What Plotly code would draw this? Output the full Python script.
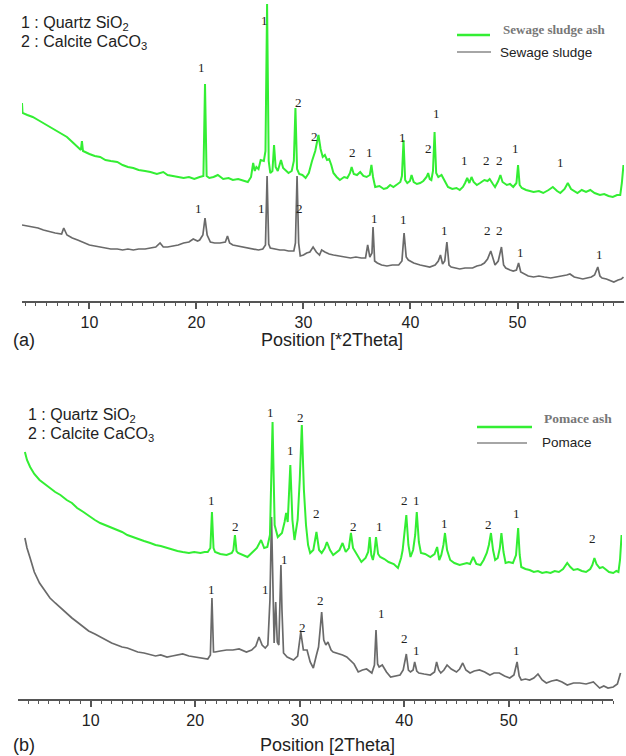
import plotly.graph_objects as go

W, H = 626, 756
GREEN = "#33ee33"
GRAY = "#6a6a6a"
SANS = "Liberation Sans, Arial, sans-serif"
SERIF = "Liberation Serif, Times New Roman, serif"

major_ticks = [10, 20, 30, 40, 50]
major_tick_labels = ["10", "20", "30", "40", "50"]

# ---------------- Panel (a): sewage sludge ash / sewage sludge ----------------
ssa_theta = [3.70, 3.75, 4.2, 4.7, 5.2, 5.7, 6.3, 6.8, 7.4, 7.9, 8.4, 8.9, 9.2, 9.3, 9.4, 10.0, 10.5, 11.0,
             11.5, 12.0, 12.6, 13.1, 13.6, 14.1, 14.6, 15.2, 15.7, 16.3, 16.9, 17.3, 17.8, 18.3, 18.8, 19.3,
             19.8, 20.3, 20.65, 20.8, 20.95, 21.2, 21.6, 22.0, 22.5, 23.0, 23.4, 23.9, 24.4, 24.8, 25.1, 25.3,
             25.45, 25.6, 25.8, 26.0, 26.3, 26.45, 26.6, 26.75, 26.9, 27.1, 27.25, 27.4, 27.6, 27.9, 28.1, 28.3,
             28.6, 28.9, 29.1, 29.25, 29.4, 29.6, 29.9, 30.2, 30.5, 30.8, 31.1, 31.4, 31.6, 31.8, 32.0, 32.2,
             32.4, 32.6, 32.8, 33.1, 33.4, 33.8, 34.1, 34.35, 34.5, 34.7, 35.0, 35.3, 35.6, 35.9, 36.2, 36.35,
             36.5, 36.7, 37.1, 37.5, 37.8, 38.1, 38.4, 38.8, 39.05, 39.2, 39.35, 39.5, 39.7, 39.95, 40.1, 40.3,
             40.6, 40.9, 41.2, 41.5, 41.65, 41.8, 41.95, 42.1, 42.25, 42.4, 42.6, 42.9, 43.1, 43.5, 43.9, 44.3,
             44.6, 44.9, 45.1, 45.3, 45.5, 45.7, 45.9, 46.2, 46.5, 46.9, 47.2, 47.4, 47.7, 47.9, 48.2, 48.4,
             48.6, 49.0, 49.3, 49.6, 49.9, 50.05, 50.2, 50.4, 50.8, 51.2, 51.5, 52.0, 52.4, 52.9, 53.3, 53.7,
             54.0, 54.4, 54.7, 55.0, 55.3, 55.6, 56.0, 56.4, 56.8, 57.2, 57.7, 58.1, 58.5, 58.9, 59.3, 59.6,
             59.75, 59.9]
ssa_counts = [198, 188, 186, 184, 181, 178, 174, 171, 167, 164, 159, 154, 151, 160, 150, 147, 145, 144,
              141, 140, 139, 136, 134, 133, 131, 130, 129, 127, 129, 126, 125, 124, 123, 124,
              122, 124, 125, 217, 125, 123, 124, 126, 122, 123, 121, 122, 120, 119, 124, 138,
              130, 134, 132, 141, 140, 150, 297, 140, 128, 130, 156, 134, 130, 141, 133, 131,
              128, 130, 140, 193, 132, 127, 126, 123, 128, 140, 150, 166, 152, 144, 146, 141,
              142, 136, 128, 124, 121, 124, 123, 128, 134, 127, 126, 129, 125, 124, 126, 136,
              124, 114, 115, 112, 113, 116, 114, 117, 119, 125, 161, 121, 118, 120, 126, 119,
              117, 118, 120, 124, 128, 122, 121, 130, 169, 128, 124, 126, 122, 114, 112, 113,
              111, 114, 118, 123, 118, 124, 119, 116, 118, 121, 120, 122, 117, 114, 120, 126,
              119, 116, 117, 114, 118, 136, 116, 113, 111, 110, 109, 110, 108, 111, 114, 110,
              108, 112, 118, 112, 110, 108, 111, 109, 111, 108, 106, 107, 105, 104, 106, 106,
              118, 136]

ss_theta = [3.7, 4.2, 4.7, 5.2, 5.7, 6.3, 6.8, 7.4, 7.6, 7.9, 8.4, 8.9, 9.4, 10.0, 10.5, 11.0, 11.5, 12.0,
            12.6, 13.1, 13.6, 14.1, 14.6, 15.2, 15.7, 16.2, 16.6, 16.9, 17.3, 17.8, 18.3, 18.8, 19.3, 19.7,
            20.1, 20.3, 20.6, 20.8, 21.0, 21.3, 21.7, 22.2, 22.7, 22.9, 23.1, 23.4, 23.9, 24.4, 24.9, 25.4,
            25.8, 26.2, 26.45, 26.6, 26.75, 26.9, 27.3, 27.8, 28.2, 28.6, 29.1, 29.25, 29.4, 29.55, 29.7, 30.0,
            30.3, 30.6, 30.9, 31.2, 31.5, 31.7, 32.0, 32.4, 32.8, 33.3, 33.8, 34.4, 34.9, 35.4, 35.8, 36.0,
            36.2, 36.4, 36.5, 36.65, 36.9, 37.3, 37.8, 38.3, 38.9, 39.2, 39.4, 39.6, 39.8, 40.3, 40.9, 41.4,
            41.8, 42.3, 42.6, 42.8, 43.0, 43.2, 43.4, 43.6, 43.8, 44.2, 44.6, 45.1, 45.5, 45.8, 46.2, 46.6,
            46.9, 47.2, 47.5, 47.75, 47.9, 48.2, 48.5, 48.7, 48.9, 49.3, 49.6, 49.9, 50.1, 50.3, 50.6, 51.0,
            51.5, 52.0, 52.5, 53.1, 53.6, 54.2, 54.6, 54.9, 55.3, 55.7, 56.1, 56.5, 56.9, 57.2, 57.5, 57.7,
            57.9, 58.3, 58.7, 59.0, 59.4, 59.7, 59.9]
ss_counts = [76, 75, 74, 73, 71, 69, 68, 67, 73, 66, 63, 61, 59, 56, 55, 54, 53, 52,
             52, 51, 52, 51, 52, 52, 53, 54, 58, 54, 54, 55, 56, 58, 59, 62,
             60, 61, 66, 83, 66, 59, 58, 58, 59, 65, 58, 56, 55, 54, 53, 52,
             51, 52, 56, 125, 57, 53, 52, 51, 51, 50, 50, 58, 125, 58, 45, 46,
             48, 49, 54, 49, 46, 51, 49, 47, 46, 45, 44, 43, 44, 43, 43, 56,
             44, 48, 74, 40, 38, 36, 35, 36, 36, 40, 68, 44, 41, 38, 36, 35,
             34, 36, 40, 46, 37, 40, 59, 36, 34, 33, 32, 33, 33, 33, 35, 36,
             38, 42, 50, 40, 36, 40, 54, 36, 33, 31, 30, 31, 38, 29, 27, 25,
             24, 25, 24, 23, 24, 25, 26, 27, 24, 23, 22, 23, 24, 26, 34, 25,
             23, 22, 20, 19, 21, 22, 24]

ssa_label_theta = [20.43, 26.32, 29.49, 30.99, 34.54, 36.13, 39.21, 41.64, 42.39, 45.01, 47.06, 48.28, 49.77, 53.98]
ssa_label_counts = [234, 281, 199, 165, 149, 149, 164, 153, 188, 141, 141, 141, 153, 139]
ssa_label_text = ["1", "1", "2", "2", "2", "1", "1", "2", "1", "1", "2", "2", "1", "1"]

ss_label_theta = [20.15, 26.04, 29.59, 36.6, 39.31, 43.14, 47.16, 48.28, 50.24, 57.63]
ss_label_counts = [93, 93, 93, 83, 82, 71, 71, 71, 49, 47]
ss_label_text = ["1", "1", "2", "1", "1", "1", "2", "2", "1", "1"]

# ---------------- Panel (b): pomace ash / pomace ----------------
pa_theta = [3.7, 3.9, 4.2, 4.6, 5.1, 5.6, 6.1, 6.6, 7.1, 7.7, 8.2, 8.7, 9.3, 9.8, 10.4, 10.9, 11.4, 12.0,
            12.5, 13.0, 13.5, 14.0, 14.5, 15.1, 15.7, 16.2, 16.7, 17.3, 17.8, 18.3, 18.8, 19.4, 19.9, 20.5,
            20.9, 21.2, 21.45, 21.6, 21.75, 21.9, 22.4, 23.0, 23.5, 23.65, 23.8, 23.95, 24.1, 24.6, 25.0, 25.5,
            25.9, 26.3, 26.6, 26.9, 27.15, 27.4, 27.6, 27.9, 28.1, 28.3, 28.55, 28.7, 28.85, 29.1, 29.3, 29.5,
            29.8, 30.0, 30.2, 30.4, 30.6, 30.8, 31.0, 31.3, 31.6, 31.85, 32.1, 32.4, 32.6, 32.9, 33.2, 33.5,
            33.8, 34.1, 34.4, 34.7, 34.9, 35.1, 35.4, 35.9, 36.3, 36.55, 36.7, 36.85, 37.0, 37.15, 37.3, 37.5,
            37.7, 38.1, 38.5, 39.0, 39.4, 39.7, 39.85, 40.05, 40.2, 40.4, 40.6, 40.85, 41.05, 41.2, 41.4, 41.6,
            42.0, 42.5, 42.9, 43.15, 43.35, 43.55, 43.75, 43.9, 44.1, 44.4, 44.8, 45.3, 45.7, 46.0, 46.3, 46.6,
            46.9, 47.3, 47.6, 47.9, 48.1, 48.3, 48.5, 48.7, 48.95, 49.15, 49.3, 49.5, 49.7, 50.0, 50.4, 50.7,
            50.9, 51.05, 51.2, 51.6, 52.0, 52.4, 52.8, 53.2, 53.6, 54.0, 54.4, 54.8, 55.2, 55.6, 55.9, 56.2,
            56.6, 57.0, 57.4, 57.8, 58.0, 58.2, 58.4, 58.7, 59.0, 59.3, 59.6, 60.0, 60.3, 60.5, 60.65, 60.8]
pa_counts = [248, 240, 233, 226, 220, 216, 212, 208, 205, 200, 197, 192, 188, 184, 180, 177, 175, 172,
             170, 168, 165, 163, 161, 159, 157, 155, 154, 152, 150, 149, 148, 147, 148, 147,
             148, 148, 152, 188, 152, 148, 146, 145, 147, 150, 165, 149, 147, 145, 143, 148,
             152, 160, 152, 153, 165, 278, 175, 163, 165, 167, 178, 187, 178, 235, 180, 160,
             180, 220, 275, 210, 175, 155, 147, 150, 168, 150, 147, 152, 158, 150, 145, 148,
             150, 157, 148, 152, 167, 152, 147, 138, 142, 148, 163, 145, 140, 148, 163, 146,
             143, 141, 138, 136, 132, 142, 150, 170, 185, 155, 143, 150, 165, 188, 158, 147,
             146, 143, 146, 153, 140, 145, 155, 167, 150, 140, 137, 135, 136, 137, 136, 143,
             136, 135, 140, 147, 155, 167, 150, 140, 142, 152, 167, 148, 137, 138, 137, 145,
             172, 145, 133, 131, 130, 128, 129, 127, 128, 127, 129, 128, 131, 137, 133, 130,
             131, 129, 128, 131, 135, 142, 136, 132, 133, 130, 128, 127, 129, 128, 140, 165]

p_theta = [3.7, 3.9, 4.2, 4.6, 5.1, 5.6, 6.1, 6.6, 7.1, 7.7, 8.2, 8.7, 9.3, 9.8, 10.4, 10.9, 11.4, 12.0,
           12.5, 13.0, 13.5, 14.0, 14.5, 15.1, 15.7, 16.2, 16.7, 17.3, 17.8, 18.3, 18.8, 19.4, 19.9, 20.5,
           21.2, 21.45, 21.6, 21.75, 21.9, 22.4, 23.0, 23.6, 24.2, 24.9, 25.4, 25.8, 26.1, 26.4, 26.7, 26.95,
           27.15, 27.3, 27.45, 27.55, 27.7, 27.85, 28.0, 28.1, 28.2, 28.3, 28.45, 28.8, 29.4, 29.8, 30.1, 30.35,
           30.7, 31.0, 31.3, 31.6, 31.8, 31.95, 32.1, 32.3, 32.5, 32.7, 33.0, 33.2, 33.6, 34.1, 34.5, 34.8,
           35.2, 35.6, 36.0, 36.4, 36.9, 37.15, 37.3, 37.45, 37.6, 37.9, 38.3, 38.7, 39.1, 39.6, 39.9, 40.2,
           40.4, 40.6, 40.85, 41.0, 41.2, 41.4, 41.9, 42.5, 42.9, 43.1, 43.3, 43.5, 43.8, 44.1, 44.5, 45.0,
           45.3, 45.6, 45.9, 46.3, 46.7, 47.2, 47.7, 48.2, 48.6, 49.1, 49.6, 50.1, 50.5, 50.8, 51.0, 51.2,
           51.6, 52.0, 52.4, 52.8, 53.2, 53.6, 54.1, 54.6, 55.1, 55.6, 56.2, 56.8, 57.4, 58.1, 58.4, 58.7,
           59.1, 59.5, 60.0, 60.4, 60.7]
p_counts = [162, 152, 142, 128, 117, 109, 102, 97, 92, 87, 82, 78, 73, 69, 66, 63, 60, 57,
            55, 53, 52, 50, 48, 47, 45, 44, 45, 43, 44, 45, 46, 44, 43, 42,
            41, 45, 102, 48, 48, 49, 50, 50, 51, 48, 50, 54, 63, 55, 52, 55,
            100, 183, 90, 57, 98, 58, 55, 90, 135, 90, 47, 43, 40, 44, 68, 50,
            50, 38, 32, 45, 53, 70, 88, 60, 55, 58, 50, 48, 47, 45, 43, 40,
            36, 28, 30, 31, 27, 35, 70, 36, 33, 35, 28, 23, 24, 25, 30, 46,
            30, 28, 30, 38, 29, 27, 26, 25, 28, 38, 30, 27, 30, 35, 31, 28,
            31, 37, 30, 27, 29, 30, 28, 25, 27, 27, 24, 22, 25, 38, 24, 20,
            21, 20, 22, 26, 20, 17, 19, 20, 18, 15, 17, 17, 16, 18, 15, 12,
            14, 12, 13, 16, 27]

pa_label_theta = [21.51, 23.90, 27.25, 29.16, 30.03, 31.56, 35.10, 37.59, 39.98, 41.22, 43.90, 48.11, 50.79, 58.06]
pa_label_counts = [200, 174, 288, 250, 283, 187, 174, 174, 200, 200, 177, 176, 187, 162]
pa_label_text = ["1", "2", "1", "1", "2", "2", "2", "1", "2", "1", "1", "2", "1", "2"]

p_label_theta = [21.51, 26.68, 28.59, 30.31, 31.94, 37.87, 39.98, 41.22, 50.79]
p_label_counts = [111, 111, 141, 73, 100, 87, 62, 50, 50]
p_label_text = ["1", "1", "1", "2", "2", "1", "2", "1", "1"]

# ---------------- Figure ----------------
fig = go.Figure()
line_gray = dict(color=GRAY, width=1.7)
line_green = dict(color=GREEN, width=2.0)
fig.add_trace(go.Scatter(x=ss_theta, y=ss_counts, xaxis="x", yaxis="y", mode="lines",
                         line=line_gray, name="Sewage sludge", hoverinfo="skip"))
fig.add_trace(go.Scatter(x=ssa_theta, y=ssa_counts, xaxis="x", yaxis="y", mode="lines",
                         line=line_green, name="Sewage sludge ash", hoverinfo="skip"))
fig.add_trace(go.Scatter(x=p_theta, y=p_counts, xaxis="x2", yaxis="y2", mode="lines",
                         line=line_gray, name="Pomace", hoverinfo="skip"))
fig.add_trace(go.Scatter(x=pa_theta, y=pa_counts, xaxis="x2", yaxis="y2", mode="lines",
                         line=line_green, name="Pomace ash", hoverinfo="skip"))


def xax(domain, rng, showline, anchor):
    return dict(domain=domain, range=rng, anchor=anchor, showline=showline, linecolor="#555", linewidth=2,
                ticks="outside", ticklen=6, tickwidth=1.5, tickcolor="#555",
                tickmode="array", tickvals=major_ticks, ticktext=major_tick_labels,
                minor=dict(ticks="outside", ticklen=3, tickwidth=1, tickcolor="#555",
                           tickmode="linear", tick0=0, dtick=1, showgrid=False),
                tickfont=dict(family=SANS, size=16, color="#222"),
                showgrid=False, zeroline=False, fixedrange=True)


annotations = []
for th, ct, tx in zip(ssa_label_theta + ss_label_theta, ssa_label_counts + ss_label_counts,
                      ssa_label_text + ss_label_text):
    annotations.append(dict(x=th, y=ct, xref="x", yref="y", text=tx, showarrow=False,
                            font=dict(family=SERIF, size=13, color="#222")))
for th, ct, tx in zip(pa_label_theta + p_label_theta, pa_label_counts + p_label_counts,
                      pa_label_text + p_label_text):
    annotations.append(dict(x=th, y=ct, xref="x2", yref="y2", text=tx, showarrow=False,
                            font=dict(family=SERIF, size=13, color="#222")))


def px(xp, yp, text, size, family=SANS, color="#222", anchor="left"):
    return dict(x=xp / W, y=1 - yp / H, xref="paper", yref="paper", text=text, showarrow=False,
                xanchor=anchor, yanchor="middle", font=dict(family=family, size=size, color=color))


annotations += [
    px(19, 23, "1 : Quartz SiO<sub>2</sub>", 16),
    px(19, 43, "2 : Calcite CaCO<sub>3</sub>", 16),
    px(26, 415, "1 : Quartz SiO<sub>2</sub>", 16),
    px(26, 434, "2 : Calcite CaCO<sub>3</sub>", 16),
    px(332, 340, "Position [*2Theta]", 18, anchor="center"),
    px(327, 745, "Position [2Theta]", 18, anchor="center"),
    px(11, 340, "(a)", 18),
    px(11, 745, "(b)", 18),
    px(501, 29, "<b>Sewage sludge ash</b>", 13, family=SERIF, color="#777"),
    px(498, 52, "Sewage sludge", 13.5),
    px(542, 418, "<b>Pomace ash</b>", 13.5, family=SERIF, color="#777"),
    px(540, 442, "Pomace", 13.5),
]


def seg(x0, x1, y, color, width):
    return dict(type="line", xref="paper", yref="paper", x0=x0 / W, x1=x1 / W,
                y0=1 - y / H, y1=1 - y / H, line=dict(color=color, width=width))


shapes = [
    seg(457, 490, 35, GREEN, 2.5),
    seg(457, 491, 52, "#888", 1.3),
    seg(477, 532, 427, GREEN, 2.5),
    seg(477, 527, 443, "#888", 1.3),
    dict(type="line", xref="x2", yref="paper", x0=3.04, x1=59.98, y0=56 / H, y1=56 / H,
         line=dict(color="#555", width=2)),
]

fig.update_layout(
    width=W, height=H, margin=dict(l=0, r=0, t=0, b=0),
    paper_bgcolor="white", plot_bgcolor="white", showlegend=False,
    xaxis=xax([22 / W, 624 / W], [3.7, 59.95], True, "y"),
    yaxis=dict(domain=[455 / H, 1.0], range=[0, 301], visible=False, fixedrange=True),
    xaxis2=xax([18 / W, 622 / W], [3.04, 60.84], False, "y2"),
    yaxis2=dict(domain=[56 / H, 376 / H], range=[0, 320], visible=False, fixedrange=True),
    annotations=annotations, shapes=shapes,
)

fig.write_html("out.html", config={"displayModeBar": False},
               post_script="document.body.style.margin='0';document.body.style.overflow='hidden';")
